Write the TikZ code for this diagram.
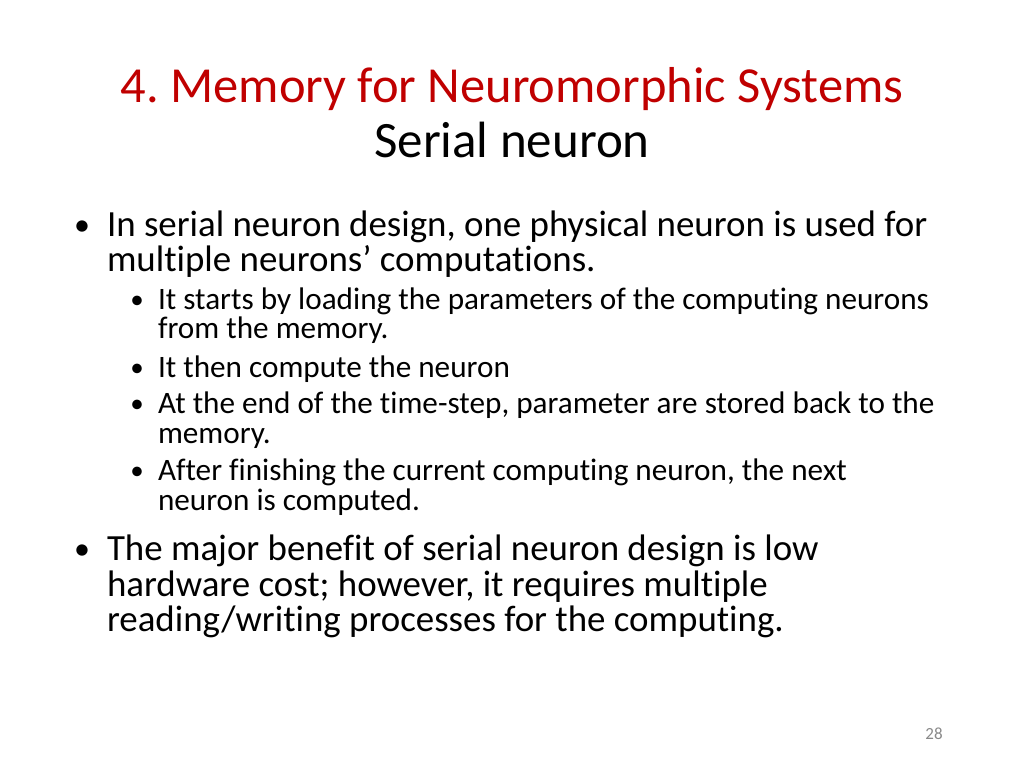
\documentclass[tikz,border=0pt]{standalone}
\usepackage{fontspec}
\setmainfont{Carlito}[Ligatures={NoCommon}]
\definecolor{titlered}{RGB}{192,0,0}
\definecolor{pagegray}{RGB}{137,137,137}
\frenchspacing
\begin{document}
\begin{tikzpicture}[x=1pt,y=-1pt,
  every node/.style={inner sep=0pt,outer sep=0pt},
  titletxt/.style={font=\fontsize{50.5}{60}\selectfont,text=titlered,anchor=base},
  subtitletxt/.style={font=\fontsize{51}{60}\selectfont,text=black,anchor=base},
  mainline/.style={font=\fontsize{36.9}{42}\selectfont,anchor=base west},
  subline/.style={font=\fontsize{31.2}{36}\selectfont,anchor=base west},
  mainbul/.style={font=\fontsize{32}{42}\selectfont,anchor=base},
  subbul/.style={font=\fontsize{27}{34}\selectfont,anchor=base},
  pagenum/.style={font=\fontsize{17}{20}\selectfont,text=pagegray,anchor=base}]
\useasboundingbox[fill=white] (0,0) rectangle (1024,768);
\node[titletxt] (title) at (512,102) {4. Memory for Neuromorphic Systems};
\node[subtitletxt] (subtitle) at (512,157) {Serial neuron};
% bullet 1
\node[mainbul] (b1) at (82,235) {•};
\node[mainline] (l1a) at (107,236) {In serial neuron design, one physical neuron is used for};
\node[mainline] (l1b) at (107,271) {multiple neurons’ computations.};
% sub bullets
\node[subbul] (s1) at (137,308) {•};
\node[subline] (s1a) at (158,309) {It starts by loading the parameters of the computing neurons};
\node[subline] (s1b) at (158,338) {from the memory.};
\node[subbul] (s2) at (137,376) {•};
\node[subline] (s2a) at (158,377) {It then compute the neuron};
\node[subbul] (s3) at (137,412) {•};
\node[subline] (s3a) at (158,413) {At the end of the time-step, parameter are stored back to the};
\node[subline] (s3b) at (158,443) {memory.};
\node[subbul] (s4) at (137,479) {•};
\node[subline] (s4a) at (158,480) {After finishing the current computing neuron, the next};
\node[subline] (s4b) at (158,510) {neuron is computed.};
% bullet 2
\node[mainbul] (b2) at (82,559) {•};
\node[mainline] (l2a) at (107,560) {The major benefit of serial neuron design is low};
\node[mainline] (l2b) at (107,596) {hardware cost; however, it requires multiple};
\node[mainline] (l2c) at (107,631) {reading/writing processes for the computing.};
\node[pagenum] (pg) at (934,739) {28};
\end{tikzpicture}
\end{document}
